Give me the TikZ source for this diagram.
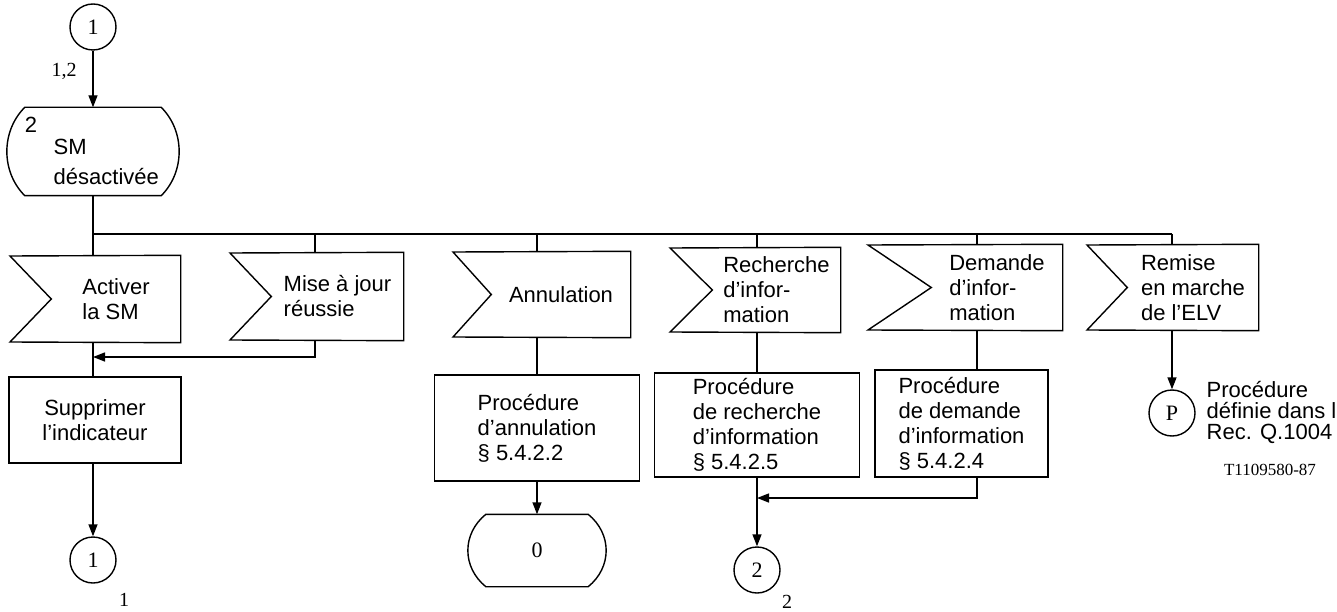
\documentclass[tikz,border=0pt]{standalone}
\usepackage{fontspec}
\setmainfont{Liberation Sans}
\newfontfamily\serifnum{Liberation Serif}
\usetikzlibrary{arrows.meta,calc}

% flag (signal input) : name, left, notch, right, top, bottom, text
\newcommand\flagnode[7]{%
  \node[flagbox, minimum width={#4-#3}, minimum height={#6-#5}] (#1) at ({(#3+#4)/2},{(#5+#6)/2}) {#7};
  \draw (#1.north east) -- (#1.south east) -- (#2,#6) -- (#1.west) -- (#2,#5) -- cycle;
}
% state outline around a node (arc-like sides)
\newcommand\stateoutline[2]{%
  \draw ($(#1.north west)+(#2,0)$) -- ($(#1.north east)+(-#2,0)$)
    .. controls ($(#1.north east)!0.27!(#1.south east)+(0.33*#2,0)$) and ($(#1.north east)!0.73!(#1.south east)+(0.33*#2,0)$) .. ($(#1.south east)+(-#2,0)$)
    -- ($(#1.south west)+(#2,0)$)
    .. controls ($(#1.north west)!0.73!(#1.south west)+(-0.33*#2,0)$) and ($(#1.north west)!0.27!(#1.south west)+(-0.33*#2,0)$) .. cycle;
}

\begin{document}
\begin{tikzpicture}[x=1pt,y=-1pt, line width=1.4pt,
  every node/.style={inner sep=0pt, font=\fontsize{22}{25}\selectfont},
  arr/.style={-{Triangle[length=12pt,width=9pt]}},
  flagbox/.style={align=left},
  procbox/.style={draw, align=left},
  conn/.style={draw, circle, minimum size=46pt, font=\serifnum\fontsize{22}{24}\selectfont},
  serifl/.style={font=\serifnum\fontsize{20}{22}\selectfont},
  plain/.style={align=left}
]
\useasboundingbox (0,0) rectangle (1337,612);

% top connector and state
\node[conn] (c1top) at (93,27) {1};
\node[serifl] (lab12) at (64,71) {1,2};
\node[minimum width=171, minimum height=87] (st) at (93,151.5) {};
\stateoutline{st}{18}
\node (stnum) at (31,125) {2};
\node[plain, anchor=west, font=\fontsize{22}{30}\selectfont] (sttxt) at (53,162) {SM\\désactivée};
\draw[arr] (c1top) -- (st.north);

% inputs
\flagnode{act}{10}{52}{180}{256}{342}{Activer\\la SM}
\flagnode{mise}{230}{272}{403}{253}{340}{Mise à jour\\réussie}
\flagnode{ann}{453}{492}{630}{252}{337}{Annulation}
\flagnode{rec}{670}{713}{840}{248}{332}{Recherche\\d’infor-\\mation}
\flagnode{dem}{868}{932}{1062}{245}{330}{Demande\\d’infor-\\mation}
\flagnode{rem}{1087}{1128}{1258}{245}{330}{Remise\\en marche\\de l’ELV}

% bus
\coordinate (b1) at (93,234);
\coordinate (b2) at (315,234);
\coordinate (b3) at (537,234);
\coordinate (b4) at (757,234);
\coordinate (b5) at (977,234);
\coordinate (b6) at (1172,234);
\draw (st.south) |- (b6);
\draw (b1) -- (b1 |- act.north);
\draw (b2) -- (b2 |- mise.north);
\draw (b3) -- (b3 |- ann.north);
\draw (b4) -- (b4 |- rec.north);
\draw (b5) -- (b5 |- dem.north);
\draw (b6) -- (b6 |- rem.north);

% column 1
\node[procbox, align=center, minimum width=172, minimum height=86] (sup) at (95,420) {Supprimer\\l’indicateur};
\draw (b1 |- act.south) -- (b1 |- sup.north);
\coordinate (j1) at (93,357);
\draw[arr] (b2 |- mise.south) |- (j1);
\node[conn] (c1bot) at (93,560) {1};
\node[serifl] (lab1) at (124,600) {1};
\draw[arr] (c1bot |- sup.south) -- (c1bot.north);

% annulation
\node[procbox, minimum width=205, minimum height=106] (pa) at (537,428) {Procédure\\d’annulation\\§ 5.4.2.2};
\draw (b3 |- ann.south) -- (pa.north);
\node[minimum width=137, minimum height=71, font=\serifnum\fontsize{22}{24}\selectfont] (zero) at (537,550.5) {0};
\stateoutline{zero}{18}
\draw[arr] (pa.south) -- (zero.north);

% recherche
\node[procbox, minimum width=205, minimum height=104] (pr) at (757,425) {Procédure\\de recherche\\d’information\\§ 5.4.2.5};
\draw (b4 |- rec.south) -- (pr.north);
\node[conn] (c2) at (757,570) {2};
\node[serifl] (lab2) at (787,602) {2};
\draw[arr] (pr.south) -- (c2.north);

% demande
\node[procbox, minimum width=173, minimum height=107] (pd) at (961.5,423.5) {Procédure\\de demande\\d’information\\§ 5.4.2.4};
\draw (b5 |- dem.south) -- (b5 |- pd.north);
\coordinate (j2) at (757,498);
\draw[arr] (b5 |- pd.south) |- (j2);

% remise
\node[conn] (cP) at (1172,413) {P};
\draw[arr] (b6 |- rem.south) -- (cP.north);
\node[plain, anchor=west, font=\fontsize{22}{21}\selectfont] (ptxt) at (1206,412) {Procédure\\définie dans l\\Rec. Q.1004};
\node[font=\serifnum\fontsize{17}{19}\selectfont] (ref) at (1270,470) {T1109580-87};
\end{tikzpicture}
\end{document}
